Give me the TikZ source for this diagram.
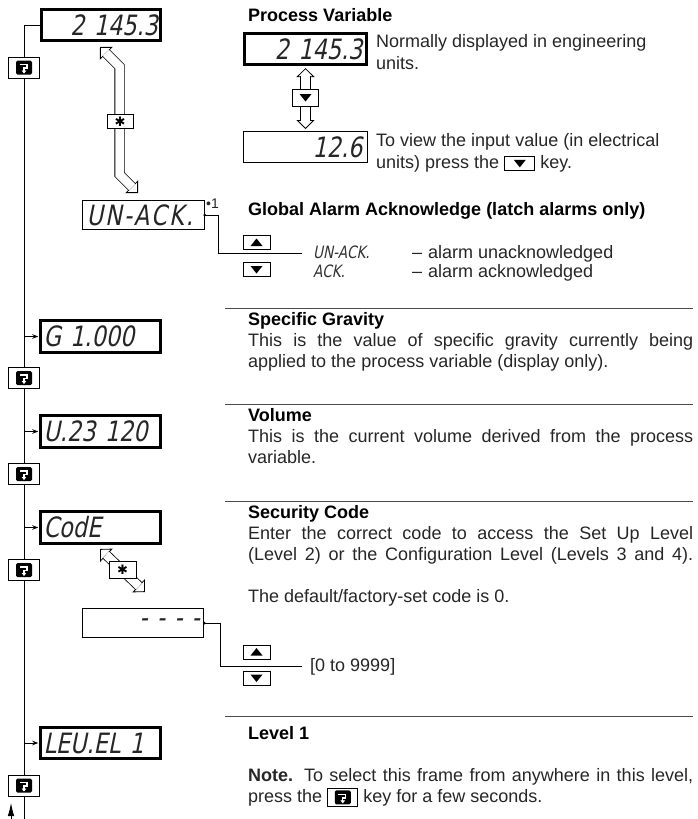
\documentclass[tikz,border=0pt]{standalone}
\usepackage{fontspec}
\setmainfont{Liberation Sans}
\newfontfamily\segfont{DejaVu Sans}[FakeSlant=0.2,FakeStretch=0.8]
\newfontfamily\symfont{DejaVu Sans}
\usetikzlibrary{arrows.meta,positioning}

\tikzset{
  txt/.style={inner sep=0pt, text=black!85, font=\fontsize{18}{21}\selectfont},
  heading/.style={txt, text=black, font=\fontsize{18}{21}\selectfont\bfseries},
  seg/.style={inner sep=0pt, text=black!80, font=\segfont\fontsize{17}{21}\selectfont},
  disp/.style={draw, line width=2.6pt, minimum width=119.5pt, minimum height=31.5pt,
    inner sep=0pt, text width=114pt, align=left, text=black!85,
    font=\segfont\fontsize{28}{28}\selectfont},
  dthin/.style={disp, line width=1pt, minimum width=121.5pt, minimum height=29.5pt},
  sepline/.style={black!70, line width=1pt},
  conn/.style={line width=0.8pt},
  hollow/.style={line width=0.8pt, double=white, double distance=8.5pt},
  hollowtip/.style={line width=0.8pt,
    {Triangle[length=9pt,width=18pt,fill=white]}-{Triangle[length=9pt,width=18pt,fill=white]}},
  keybox/.style={draw, fill=white, line width=0.7pt, inner sep=0pt},
  scrollkey/.style={keybox, minimum width=31pt, minimum height=21pt,
    path picture={
      \begin{scope}[shift={(path picture bounding box.center)}]
        \fill[black, rounded corners=1.5pt] (-8pt,-7pt) rectangle (8pt,7pt);
        \draw[white, line width=1.3pt, -{Triangle[length=3pt,width=4.5pt]}]
          (-4.5pt,3pt) -- (3pt,3pt) -- (3pt,-0.5pt) -- (0pt,-0.5pt) -- (0pt,-6pt);
      \end{scope}}},
  upkey/.style={keybox, minimum width=27pt, minimum height=14pt,
    path picture={\fill[black, shift={(path picture bounding box.center)}]
      (-6pt,-3.5pt) -- (6pt,-3.5pt) -- (0pt,4pt) -- cycle;}},
  dnkey/.style={keybox, minimum width=27pt, minimum height=14pt,
    path picture={\fill[black, shift={(path picture bounding box.center)}]
      (-6pt,3.5pt) -- (6pt,3.5pt) -- (0pt,-4pt) -- cycle;}},
  starkey/.style={keybox, minimum width=26pt, minimum height=14pt,
    font=\symfont\fontsize{13}{13}\selectfont},
}

\begin{document}
\begin{tikzpicture}[x=1pt, y=-1pt]
\useasboundingbox (0,0) rectangle (698,819);

% left column: displays and scroll keys
\node[disp, align=right] (d1) at (101,25) {2 145.3};
\node[dthin] (d2) at (143.5,215) {\addfontfeature{LetterSpace=8}UN-ACK.};
\node[disp] (dG) at (100.5,336.5) {G 1.000};
\node[disp] (dV) at (100.5,431.5) {U.23 120};
\node[disp] (dC) at (100.5,527.5) {CodE};
\node[dthin, align=right] (dD) at (143,623) {- - - -};
\node[disp] (dL) at (100.5,743) {LEU.EL 1};
\node[txt, font=\fontsize{14}{14}\selectfont, anchor=base west] (d2note) at (206,208) {•1};

\node[scrollkey] (k1) at (24,67.5) {};
\node[scrollkey] (k2) at (24,378) {};
\node[scrollkey] (k3) at (24,474) {};
\node[scrollkey] (k4) at (24,570) {};
\node[scrollkey] (k5) at (24,785.5) {};
\coordinate (bot) at (24,819);

\draw[conn] (d1.west) -| (k1.north);
\draw[conn] (k1.south) -- (k2.north);
\draw[conn] (k2.south) -- (k3.north);
\draw[conn] (k3.south) -- (k4.north);
\draw[conn] (k4.south) -- (k5.north);
\draw[conn] (k5.south) -- (bot);
\draw[conn, -{Stealth[length=6pt,width=4.5pt]}, shorten >=1.2pt] (k1 |- dG.west) -- (dG.west);
\draw[conn, -{Stealth[length=6pt,width=4.5pt]}, shorten >=1.2pt] (k2 |- dV.west) -- (dV.west);
\draw[conn, -{Stealth[length=6pt,width=4.5pt]}, shorten >=1.2pt] (k3 |- dC.west) -- (dC.west);
\draw[conn, -{Stealth[length=6pt,width=4.5pt]}, shorten >=1.2pt] (k4 |- dL.west) -- (dL.west);
\coordinate (rb) at (11,819);
\coordinate (rt) at (11,803);
\draw[conn, -{Latex[length=13pt,width=6.5pt]}] (rb) -- (rt);

% hollow arrow from the process variable to the alarm frame
\coordinate (ja) at (100,47);
\coordinate (jb) at (119.5,66.5);
\coordinate (jc) at (119.5,174.5);
\coordinate (jd) at (138,193);
\draw[hollowtip] (ja) -- (jb) -- (jc) -- (jd);
\draw[hollow, shorten <=8.3pt, shorten >=8.3pt] (ja) -- (jb) -- (jc) -- (jd);
\node[starkey] (jkey) at (120,121.5) {✱};

% hollow arrow from the code frame to the code entry
\coordinate (ca) at (100,549);
\coordinate (cb) at (145,592);
\draw[hollowtip] (ca) -- (cb);
\draw[hollow, shorten <=8.3pt, shorten >=8.3pt] (ca) -- (cb);
\node[starkey, minimum width=27pt, minimum height=17pt] (ckey) at (122.5,569.5) {✱};

% process variable
\node[heading, anchor=base west] (pvh) at (248,21) {Process Variable};
\node[disp, align=right, minimum width=122.5pt] (pv1) at (305.5,49) {2 145.3};
\node[dthin, align=right, minimum width=124pt, minimum height=31pt] (pv2) at (305.5,147) {12.6};
\draw[hollowtip, shorten <=2pt, shorten >=2pt] (pv1.south) -- (pv2.north);
\draw[hollow, shorten <=10.3pt, shorten >=10.3pt] (pv1.south) -- (pv2.north);
\node[dnkey, minimum width=26pt, minimum height=17pt] (pvkey) at (305.5,97.5) {};
\node[txt, anchor=base west] (pvt1) at (376,47) {Normally displayed in engineering};
\node[txt, anchor=base west] (pvt2) at (376,69) {units.};
\node[txt, anchor=base west] (pvt3) at (376,146) {To view the input value (in electrical};
\node[txt, anchor=base west] (pvt4) at (376,168) {units) press the};
\node[dnkey, minimum width=30pt, minimum height=14pt, right=5pt of pvt4] (pvkey2) {};
\node[txt, anchor=base west, xshift=5pt] (pvt5) at (pvkey2.east |- pvt4.base) {key.};

% global alarm acknowledge
\node[heading, anchor=base west] (gah) at (248,215) {Global Alarm Acknowledge (latch alarms only)};
\node[upkey] (aup) at (256.5,242.5) {};
\node[dnkey] (adn) at (256.5,269.5) {};
\coordinate (alm) at (302,253);
\fill (d2.east) circle[radius=1.5pt];
\draw[conn] (d2.east) -- ++(14,0) |- (alm);
\node[seg, anchor=base west] (ga1) at (313,258) {UN-ACK.};
\node[seg, anchor=base west] (ga2) at (313,277) {ACK.};
\node[txt, anchor=base west] (gd1) at (412,258) {–};
\node[txt, anchor=base west] (gd2) at (412,277) {–};
\node[txt, anchor=base west] (gt1) at (428,258) {alarm unacknowledged};
\node[txt, anchor=base west] (gt2) at (428,277) {alarm acknowledged};

% separators
\draw[sepline] (225,308) -- (693,308);
\draw[sepline] (225,404) -- (693,404);
\draw[sepline] (225,501) -- (693,501);
\draw[sepline] (225,716) -- (693,716);

% specific gravity
\node[heading, anchor=base west] (sgh) at (248,325) {Specific Gravity};
\node[txt, anchor=base west] (sg1) at (248,346) {\makebox[445pt][s]{This is the value of specific gravity currently being}};
\node[txt, anchor=base west] (sg2) at (248,367) {applied to the process variable (display only).};

% volume
\node[heading, anchor=base west] (vh) at (248,421) {Volume};
\node[txt, anchor=base west] (v1) at (248,442) {\makebox[445pt][s]{This is the current volume derived from the process}};
\node[txt, anchor=base west] (v2) at (248,463) {variable.};

% security code
\node[heading, anchor=base west] (sch) at (248,518) {Security Code};
\node[txt, anchor=base west] (sc1) at (248,539) {\makebox[445pt][s]{Enter the correct code to access the Set Up Level}};
\node[txt, anchor=base west] (sc2) at (248,560) {\makebox[445pt][s]{(Level 2) or the Configuration Level (Levels 3 and 4).}};
\node[txt, anchor=base west] (sc3) at (248,602) {The default/factory-set code is 0.};
\node[upkey] (cup) at (256.5,652) {};
\node[dnkey] (cdn) at (256.5,678) {};
\coordinate (cod) at (302,666);
\fill (dD.east) circle[radius=1.5pt];
\draw[conn] (dD.east) -- ++(16,0) |- (cod);
\node[txt, anchor=base west] (crange) at (310,671) {[0 to 9999]};

% level 1
\node[heading, anchor=base west] (lh) at (248,739) {Level 1};
\node[txt, anchor=base west] (n1) at (248,781) {\makebox[445pt][s]{\textbf{Note.} To select this frame from anywhere in this level,}};
\node[txt, anchor=base west] (n2) at (248,802) {press the};
\node[scrollkey, minimum width=30pt, minimum height=18pt, right=5pt of n2] (nkey) {};
\node[txt, anchor=base west, xshift=5pt] (n3) at (nkey.east |- n2.base) {key for a few seconds.};
\end{tikzpicture}
\end{document}
